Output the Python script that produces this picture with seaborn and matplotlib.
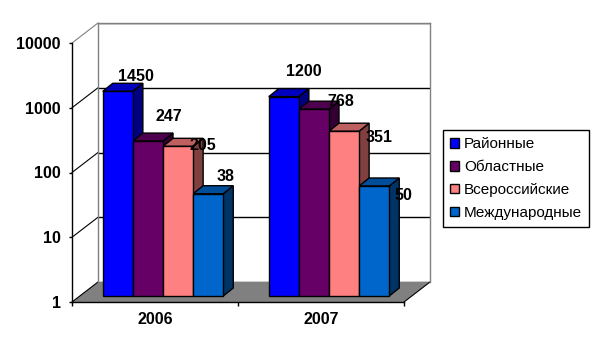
import matplotlib
matplotlib.use('Agg')
import matplotlib.pyplot as plt
from matplotlib.patches import Polygon
from matplotlib.transforms import IdentityTransform
import pandas as pd
import seaborn as sns

years = ['2006', '2007']
levels = ['Районные', 'Областные', 'Всероссийские', 'Международные']
counts_2006 = [1450, 247, 205, 38]
counts_2007 = [1200, 768, 351, 50]
y_ticks = [1, 10, 100, 1000, 10000]

palette = ['#0000FF', '#660066', '#FF8080', '#0066CC']

W, H = 599, 357
px = IdentityTransform()

sns.set_theme(style='white')
plt.rcParams['font.family'] = ['Liberation Sans', 'DejaVu Sans']

df = pd.DataFrame({
    'year': [y for y in years for _ in levels],
    'level': levels * 2,
    'count': counts_2006 + counts_2007,
})


def add_axes_px(fig, left, top, right, bottom, zorder):
    # pixel box measured from the top left corner of the picture
    ax = fig.add_axes([left / W, 1 - bottom / H, (right - left) / W, (bottom - top) / H])
    ax.set_zorder(zorder)
    ax.patch.set_visible(False)
    return ax


def setup_scale(ax):
    ax.set_yscale('log')
    ax.set_ylim(y_ticks[0], y_ticks[-1])
    ax.set_xlim(-0.5, len(years) - 0.5)
    ax.minorticks_off()


fig = plt.figure(figsize=(W / 100, H / 100), dpi=100, facecolor='white')

# --- back wall ---
DEPTH = (26, 20)
wall = add_axes_px(fig, 98, 23, 430, 282, 1)
setup_scale(wall)
wall.set_xticks([])
wall.set_yticks(y_ticks)
wall.tick_params(left=False, labelleft=False)
wall.grid(axis='y', color='black', lw=1)
for s in wall.spines.values():
    s.set_color('#808080')
    s.set_linewidth(1)
wall.spines['bottom'].set_visible(False)

# --- front axis with the labels ---
front = add_axes_px(fig, 72, 43, 404, 302, 3)
setup_scale(front)
sns.despine(ax=front)
for name in ['left', 'bottom']:
    front.spines[name].set_color('black')
    front.spines[name].set_linewidth(1)
front.set_yticks(y_ticks)
front.set_yticklabels([str(t) for t in y_ticks], fontsize=11.5, fontweight='bold', color='black')
front.set_xticks([i - 0.5 for i in range(len(years) + 1)])
front.set_xticklabels([])
front.set_xticks(range(len(years)), years, minor=True, fontsize=11.5, fontweight='bold', color='black')
front.tick_params(axis='x', which='major', bottom=True, length=3, width=1, color='black', direction='out')
front.tick_params(axis='x', which='minor', bottom=False, pad=3)
front.tick_params(axis='y', which='major', left=True, length=2, width=1, color='black', pad=6)
front.yaxis.set_tick_params(which='minor', left=False)

# floor and the diagonals between front axis and back wall
x0, y0 = front.transData.transform((-0.5, 1))
x1, _ = front.transData.transform((len(years) - 0.5, 1))
floor = Polygon([(x0, y0), (x1, y0), (x1 + DEPTH[0], y0 + DEPTH[1]), (x0 + DEPTH[0], y0 + DEPTH[1])],
                closed=True, transform=px, facecolor='#808080', edgecolor='none', clip_on=False)
wall.add_patch(floor)
for t in y_ticks:
    xd, yd = front.transData.transform((-0.5, t))
    c = '#808080' if t == y_ticks[-1] else 'black'
    wall.plot([xd, xd + DEPTH[0]], [yd, yd + DEPTH[1]], transform=px, color=c, lw=0.8, clip_on=False)
wall.plot([x1, x1 + DEPTH[0]], [y0, y0 + DEPTH[1]], transform=px, color='black', lw=0.8, clip_on=False)
wall.set_xlim(-0.5, len(years) - 0.5)
wall.set_ylim(y_ticks[0], y_ticks[-1])

# --- bars ---
ax = add_axes_px(fig, 80, 37, 412, 296, 2)
sns.barplot(data=df, x='year', y='count', hue='level', hue_order=levels, palette=palette,
            order=years, width=0.726, gap=0, dodge=True, saturation=1, log_scale=(False, True),
            edgecolor='black', linewidth=1, errorbar=None, ax=ax)
ax.set_xlim(-0.5, len(years) - 0.5)
ax.set_ylim(y_ticks[0], y_ticks[-1])
ax.axis('off')

# side and top faces of each bar, shades of the front colour
BAR_DEPTH = (10, 8)
bars = [p for p in ax.patches if p.get_width() > 0 and p.get_height() > 0]
bars = sorted(bars, key=lambda p: p.get_x())
for i, bar in enumerate(bars):
    color = bar.get_facecolor()[:3]
    left = bar.get_x()
    right = left + bar.get_width()
    top_val = bar.get_y() + bar.get_height()
    # the log axis can not draw down to zero, so the bar starts at the axis floor
    bar.set_y(y_ticks[0])
    bar.set_height(top_val - y_ticks[0])
    xa, ya = ax.transData.transform((left, top_val))
    xb, yb = ax.transData.transform((right, y_ticks[0]))
    bd, bh = BAR_DEPTH
    side = Polygon([(xb, yb), (xb + bd, yb + bh), (xb + bd, ya + bh), (xb, ya)], closed=True, transform=px,
                   facecolor=tuple(c * 0.5 for c in color), edgecolor='black', lw=1, clip_on=False, zorder=1 + i * 0.01)
    top = Polygon([(xa, ya), (xb, ya), (xb + bd, ya + bh), (xa + bd, ya + bh)], closed=True, transform=px,
                  facecolor=tuple(c * 0.75 for c in color), edgecolor='black', lw=1, clip_on=False, zorder=1 + i * 0.01)
    ax.add_patch(side)
    ax.add_patch(top)
    bar.set_zorder(3)
    bar.set_clip_on(False)

# data labels sit where they were dragged in the original, so each has its own offset
label_offsets = [(18, 15), (21, 25), (25, 1), (17, 17), (20, 25), (27, 8), (35, -6), (29, -10)]
for bar, offset in zip(bars, label_offsets):
    cx = bar.get_x() + bar.get_width() / 2
    top_val = bar.get_y() + bar.get_height()
    ax.annotate(f'{top_val:.0f}', (cx, top_val), xytext=offset, textcoords='offset pixels',
                ha='center', va='center', fontsize=11.5, fontweight='bold', color='black',
                zorder=10, annotation_clip=False)

# --- legend ---
sns.move_legend(ax, 'upper left', bbox_to_anchor=(443 / W, 1 - 130 / H), bbox_transform=fig.transFigure,
                title=None, fontsize=11, frameon=True, fancybox=False, edgecolor='black', facecolor='white',
                framealpha=1, borderaxespad=0, handlelength=0.6, handleheight=0.6, handletextpad=0.3,
                labelspacing=0.58, borderpad=0.47, labelcolor='black')
leg = ax.get_legend()
leg.get_frame().set_linewidth(1)
leg.set_visible(True)

fig.savefig('out.png', dpi=100)
